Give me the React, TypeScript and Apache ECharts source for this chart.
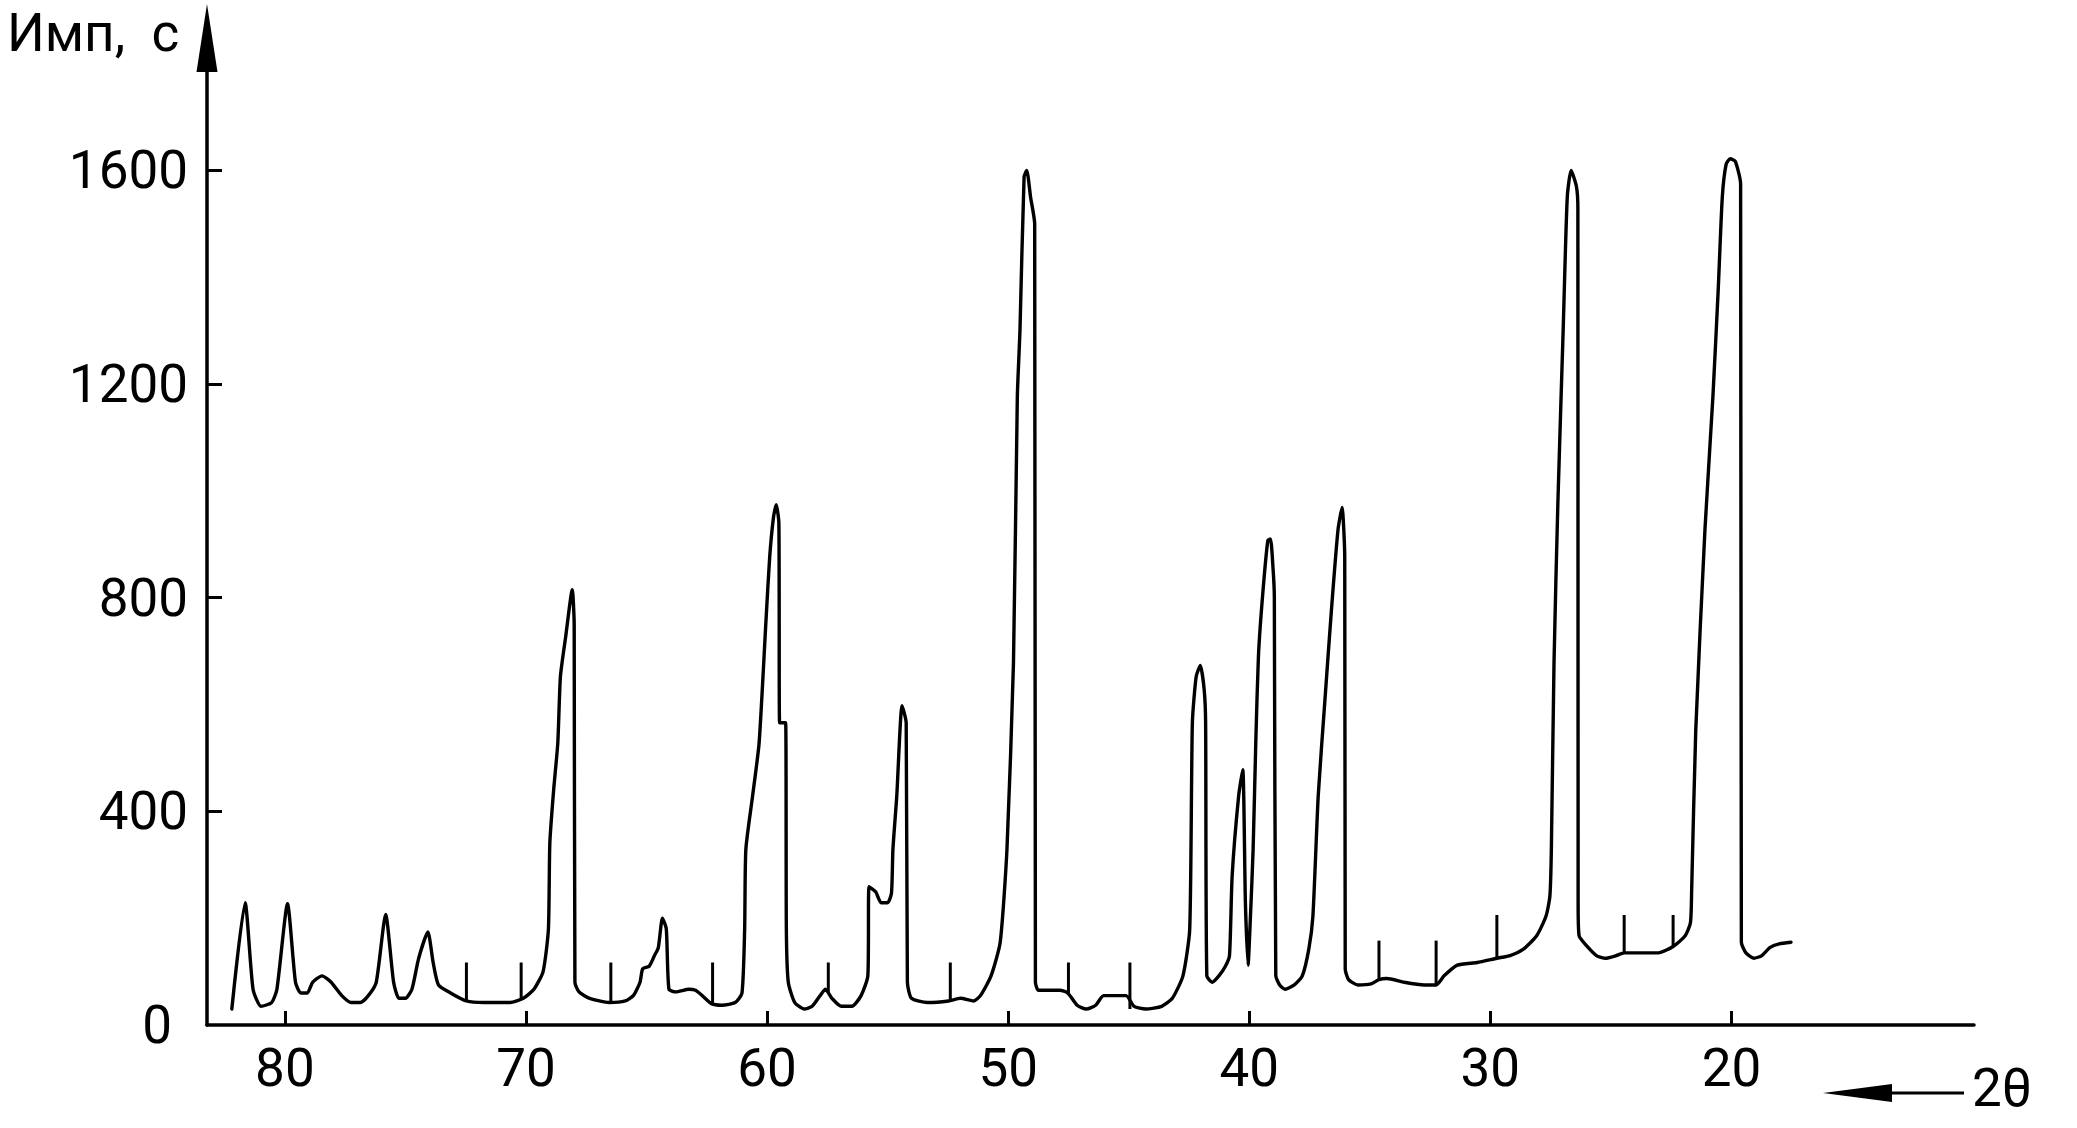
import React, { useEffect, useRef } from "react";
import * as echarts from "echarts";

// Axis tick values / labels
const yTickValues = [0, 400, 800, 1200, 1600];
const yTickMarks = [400, 800, 1200, 1600];
const xTickValues = [20, 30, 40, 50, 60, 70, 80];
const yAxisTitle = "Имп,  с";
const xAxisTitle = "2θ";

// Diffraction profile: 2θ (degrees) and intensity (counts per second)
const profileTheta = [
  82.2, 81.65, 81.32, 80.99, 80.55, 80.33, 79.89, 79.56, 79.34, 79.07,
  78.85, 78.46, 78.08, 77.64, 77.25, 76.87, 76.54, 76.21, 75.82, 75.49,
  75.27, 75.0, 74.73, 74.45, 74.07, 73.85, 73.63, 73.13, 72.47, 71.76,
  70.66, 70.11, 69.67, 69.29, 69.07, 69.01, 68.85, 68.68, 68.57, 68.35,
  68.08, 68.0, 67.97, 67.8, 67.36, 66.54, 65.88, 65.55, 65.27, 65.16,
  64.89, 64.67, 64.51, 64.34, 64.18, 64.07, 63.79, 63.24, 62.97, 62.69,
  62.31, 61.87, 61.32, 61.04, 60.93, 60.88, 60.6, 60.33, 60.05, 59.89,
  59.73, 59.62, 59.51, 59.48, 59.23, 59.2, 59.12, 58.85, 58.46, 58.13,
  57.8, 57.58, 57.31, 56.92, 56.48, 56.1, 55.82, 55.77, 55.49, 55.27,
  55.0, 54.84, 54.78, 54.62, 54.4, 54.23, 54.18, 54.01, 53.35, 52.47,
  51.98, 51.43, 51.15, 50.71, 50.33, 50.05, 49.78, 49.62, 49.51, 49.34,
  49.23, 49.07, 48.9, 48.87, 48.74, 47.86, 47.53, 47.14, 46.76, 46.37,
  46.04, 45.11, 44.78, 44.29, 43.63, 43.19, 42.75, 42.47, 42.36, 42.2,
  42.03, 41.87, 41.81, 41.76, 41.54, 41.26, 40.99, 40.82, 40.71, 40.44,
  40.27, 40.16, 40.05, 39.95, 39.84, 39.73, 39.62, 39.45, 39.23, 39.12,
  39.01, 38.96, 38.9, 38.74, 38.52, 38.13, 37.8, 37.53, 37.36, 37.14,
  36.87, 36.59, 36.32, 36.15, 36.04, 36.02, 35.88, 35.49, 34.95, 34.62,
  34.29, 33.57, 32.75, 32.25, 31.92, 31.37, 30.55, 29.73, 29.18, 28.63,
  28.08, 27.69, 27.53, 27.47, 27.36, 27.2, 26.98, 26.81, 26.65, 26.43,
  26.37, 26.36, 26.32, 26.04, 25.6, 25.22, 24.78, 24.45, 23.96, 23.03,
  22.42, 21.92, 21.7, 21.65, 21.48, 21.1, 20.77, 20.55, 20.38, 20.22,
  20.05, 19.84, 19.62, 19.59, 19.4, 19.07, 18.74, 18.41, 18.02, 17.53,
];
const profileCounts = [
  30, 229, 67, 35, 42, 67, 227, 80, 60, 60,
  80, 92, 80, 55, 42, 42, 55, 80, 207, 80,
  50, 50, 67, 125, 174, 117, 75, 60, 45, 42,
  42, 50, 67, 100, 179, 341, 441, 528, 653, 728,
  815, 750, 80, 62, 50, 42, 45, 55, 80, 105,
  110, 130, 145, 200, 180, 67, 62, 67, 65, 55,
  40, 37, 42, 60, 179, 329, 429, 528, 753, 877,
  952, 974, 940, 566, 566, 179, 80, 42, 30, 35,
  55, 67, 50, 35, 35, 55, 92, 259, 249, 229,
  229, 247, 329, 429, 598, 566, 80, 50, 42, 45,
  50, 45, 55, 92, 155, 329, 678, 1176, 1301, 1588,
  1600, 1550, 1500, 80, 65, 65, 60, 37, 30, 37,
  55, 55, 35, 30, 35, 50, 92, 179, 566, 653,
  673, 628, 566, 92, 80, 92, 110, 130, 279, 429,
  478, 229, 112, 204, 329, 528, 690, 802, 907, 910,
  852, 802, 92, 75, 67, 75, 92, 142, 204, 429,
  603, 778, 927, 969, 877, 105, 85, 75, 77, 85,
  87, 80, 75, 75, 92, 112, 117, 125, 130, 142,
  167, 204, 242, 329, 678, 977, 1301, 1550, 1600, 1570,
  1530, 229, 167, 150, 130, 125, 130, 135, 135, 135,
  147, 167, 192, 254, 553, 927, 1176, 1376, 1550, 1612,
  1622, 1617, 1575, 155, 135, 125, 130, 145, 152, 155,
];

// Reference marks (short vertical bars): position, lower and upper intensity
const markerTheta = [72.47, 70.2, 66.48, 62.26, 57.46, 52.4, 47.5, 44.95, 34.62, 32.25, 29.73, 24.45, 22.42];
const markerBase = [45, 48, 42, 40, 62, 45, 60, 30, 85, 75, 125, 135, 147];
const markerTop = [117, 117, 117, 117, 117, 117, 117, 117, 158, 158, 206, 206, 206];

const FONT = "Roboto, 'Liberation Sans', sans-serif";
const FS = 53;

export default function App() {
  const ref = useRef<HTMLDivElement>(null);

  useEffect(() => {
    if (!ref.current) return;
    const chart = echarts.init(ref.current, null, { renderer: "svg" });

    const profileData = profileTheta.map((t, i) => [t, profileCounts[i]]);
    const markerData = markerTheta.map((t, i) => [t, markerBase[i], markerTop[i]]);

    const option: any = {
      animation: false,
      backgroundColor: "#ffffff",
      grid: {
        left: 207,
        right: 103,
        top: 38,
        bottom: 103,
        containLabel: false,
        outerBoundsMode: "none",
      },
      xAxis: {
        type: "value",
        inverse: true,
        min: 9.94,
        max: 83.23,
        axisLine: {
          show: true,
          onZero: false,
          lineStyle: { color: "#000", width: 3.5 },
        },
        axisTick: {
          show: true,
          inside: true,
          length: 14,
          customValues: xTickValues,
          lineStyle: { color: "#000", width: 3 },
        },
        axisLabel: {
          show: true,
          customValues: xTickValues,
          margin: 16,
          fontSize: FS,
          fontFamily: FONT,
          color: "#000",
        },
        splitLine: { show: false },
      },
      yAxis: {
        type: "value",
        min: 0,
        max: 1848,
        axisLine: {
          show: true,
          onZero: false,
          symbol: ["none", "triangle"],
          symbolSize: [21, 68],
          lineStyle: { color: "#000", width: 3.5 },
        },
        axisTick: {
          show: true,
          inside: true,
          length: 15,
          customValues: yTickMarks,
          lineStyle: { color: "#000", width: 3 },
        },
        axisLabel: {
          show: true,
          customValues: yTickValues,
          margin: 19,
          fontSize: FS,
          fontFamily: FONT,
          color: "#000",
          formatter: (v: number) => (v === 0 ? "{z|0}" : String(v)),
          rich: {
            z: { fontSize: FS, fontFamily: FONT, color: "#000", padding: [0, 16, 0, 0] },
          },
        },
        splitLine: { show: false },
      },
      series: [
        {
          type: "line",
          data: profileData,
          showSymbol: false,
          symbol: "none",
          smooth: 0.2,
          clip: false,
          lineStyle: { color: "#000", width: 3.4, join: "round", cap: "round" },
          z: 3,
        },
        {
          type: "custom",
          data: markerData,
          encode: { x: 0, y: [1, 2] },
          clip: false,
          renderItem: (_params: any, api: any) => {
            const p1 = api.coord([api.value(0), api.value(1)]);
            const p2 = api.coord([api.value(0), api.value(2)]);
            return {
              type: "line",
              shape: { x1: p1[0], y1: p1[1], x2: p2[0], y2: p2[1] },
              style: { stroke: "#000", lineWidth: 3 },
            };
          },
          z: 3,
        },
      ],
      graphic: [
        {
          type: "text",
          x: 7,
          y: 33,
          style: {
            text: yAxisTitle,
            fontSize: FS,
            fontFamily: FONT,
            fill: "#000",
            align: "left",
            verticalAlign: "middle",
            textAlign: "left",
            textVerticalAlign: "middle",
          },
        },
        {
          type: "polygon",
          shape: { points: [[1823, 1093], [1892, 1084], [1892, 1102]] },
          style: { fill: "#000" },
        },
        {
          type: "line",
          shape: { x1: 1885, y1: 1093, x2: 1964, y2: 1093 },
          style: { stroke: "#000", lineWidth: 3 },
        },
        {
          type: "text",
          x: 1972,
          y: 1088,
          style: {
            text: xAxisTitle,
            fontSize: FS,
            fontFamily: FONT,
            fill: "#000",
            align: "left",
            verticalAlign: "middle",
            textAlign: "left",
            textVerticalAlign: "middle",
          },
        },
      ],
    };

    chart.setOption(option);
    return () => chart.dispose();
  }, []);

  return (
    <div
      ref={ref}
      style={{ position: "fixed", left: 0, top: 0, width: 2077, height: 1128, background: "#fff" }}
    />
  );
}
